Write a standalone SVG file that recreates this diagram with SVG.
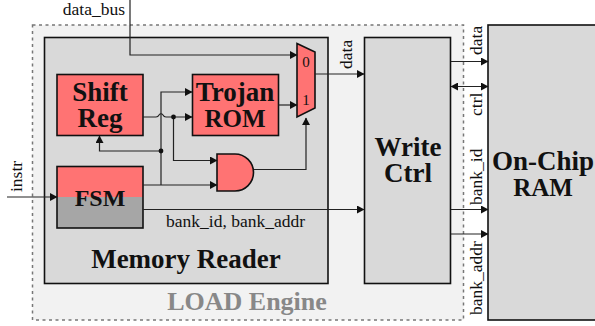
<svg xmlns="http://www.w3.org/2000/svg" width="595" height="326" viewBox="0 0 595 326">
<style>
text{font-family:"Liberation Serif","Times New Roman",serif;fill:#111}
.b{font-weight:bold;font-size:27px;text-anchor:middle}
.u{font-size:25px}
.s{font-size:17.500px}
.box{stroke:#111;stroke-width:1.600}
.w{fill:none;stroke:#222;stroke-width:1.200}
.red{fill:#ff7373}
.gray{fill:#d9d9d9}
</style>
<defs>
<marker id="a" markerUnits="userSpaceOnUse" markerWidth="8" markerHeight="8" refX="7" refY="4" orient="auto-start-reverse"><path d="M0 0L7.500 4L0 8Z" fill="#111"/></marker>
</defs>
<rect id="engine-bg" x="32.500" y="25" width="431" height="295" fill="#f2f2f2" stroke="#777" stroke-width="1.500" stroke-dasharray="3 3.500"/>
<g id="memory-reader"><rect class="box gray" x="44.500" y="37.500" width="283.500" height="246"/>
<text class="b" x="186" y="267.500">Memory Reader</text></g>
<g id="ram"><rect class="box gray" x="488" y="25" width="112" height="295"/>
<text class="b" x="543" y="170">On-Chip<tspan class="u" x="543" dy="26">RAM</tspan></text></g>
<g id="write-ctrl"><rect class="box gray" x="364.500" y="37.500" width="86" height="246"/>
<text class="b" x="408" y="156">Write<tspan x="408" dy="25.500">Ctrl</tspan></text></g>
<g id="shift-reg"><rect class="box red" x="57" y="74.500" width="86" height="61"/>
<text class="b" x="100" y="100.500">Shift<tspan x="100" dy="26.500">Reg</tspan></text></g>
<g id="trojan-rom"><rect class="box red" x="192.500" y="74.500" width="86" height="61"/>
<text class="b" x="235" y="100.500">Trojan<tspan class="u" x="235" dy="26.500">ROM</tspan></text></g>
<g id="fsm"><rect x="57" y="166.500" width="86" height="31" class="red"/><rect x="57" y="197" width="86" height="31" fill="#a6a6a6"/>
<rect class="box" x="57" y="166.500" width="86" height="61.500" fill="none"/>
<text class="b" x="100" y="206" style="font-size:24px">FSM</text></g>
<g id="and-gate"><path class="box red" d="M217 154H235A18.500 18.500 0 0 1 235 191H217Z"/></g>
<g id="mux"><path class="box red" d="M297 43.500L315 52V108L297 117Z"/>
<text x="306" y="67" text-anchor="middle" style="font-size:15px">0</text><text x="306" y="105" text-anchor="middle" style="font-size:15px">1</text></g>
<g id="connectors">
<path class="w" d="M130 0V55H297" marker-end="url(#a)"/>
<path class="w" d="M278.500 105H297" marker-end="url(#a)"/>
<path class="w" d="M143 117H156Q158 117 159 115Q161 112.500 163 115Q164 117 166 117H192" marker-end="url(#a)"/>
<path class="w" d="M161 185V92H192" marker-end="url(#a)"/>
<path class="w" d="M161 151H99.500V136" marker-end="url(#a)"/>
<path class="w" d="M173.500 117V160.500H217" marker-end="url(#a)"/>
<path class="w" d="M143 185H217" marker-end="url(#a)"/>
<path class="w" d="M254 169.500H306V118" marker-end="url(#a)"/>
<path class="w" d="M315 74H364" marker-end="url(#a)"/>
<path class="w" d="M143 209.500H364" marker-end="url(#a)"/>
<path class="w" d="M7 197H57" marker-end="url(#a)"/>
<path class="w" d="M451 61.500H488" marker-end="url(#a)"/>
<path class="w" d="M451 86.500H488" marker-start="url(#a)" marker-end="url(#a)"/>
<path class="w" d="M451 209.500H488" marker-end="url(#a)"/>
<path class="w" d="M451 234H488" marker-end="url(#a)"/>
<circle cx="161" cy="151" r="2.400" fill="#111"/><circle cx="173.500" cy="117" r="2.400" fill="#111"/>
</g>
<g id="labels">
<text class="s" x="125" y="15" text-anchor="end">data_bus</text>
<text class="s" x="166" y="226.500">bank_id, bank_addr</text>
<text class="s" transform="translate(22 192) rotate(-90)">instr</text>
<text class="s" transform="translate(352 69) rotate(-90)">data</text>
<text class="s" transform="translate(482 55) rotate(-90)">data</text>
<text class="s" transform="translate(482 116) rotate(-90)">ctrl</text>
<text class="s" transform="translate(482 205) rotate(-90)">bank_id</text>
<text class="s" transform="translate(482 315) rotate(-90)">bank_addr</text>
<text x="247" y="310" text-anchor="middle" font-weight="bold" font-size="26" style="fill:#888">LOAD Engine</text>
</g>
</svg>
